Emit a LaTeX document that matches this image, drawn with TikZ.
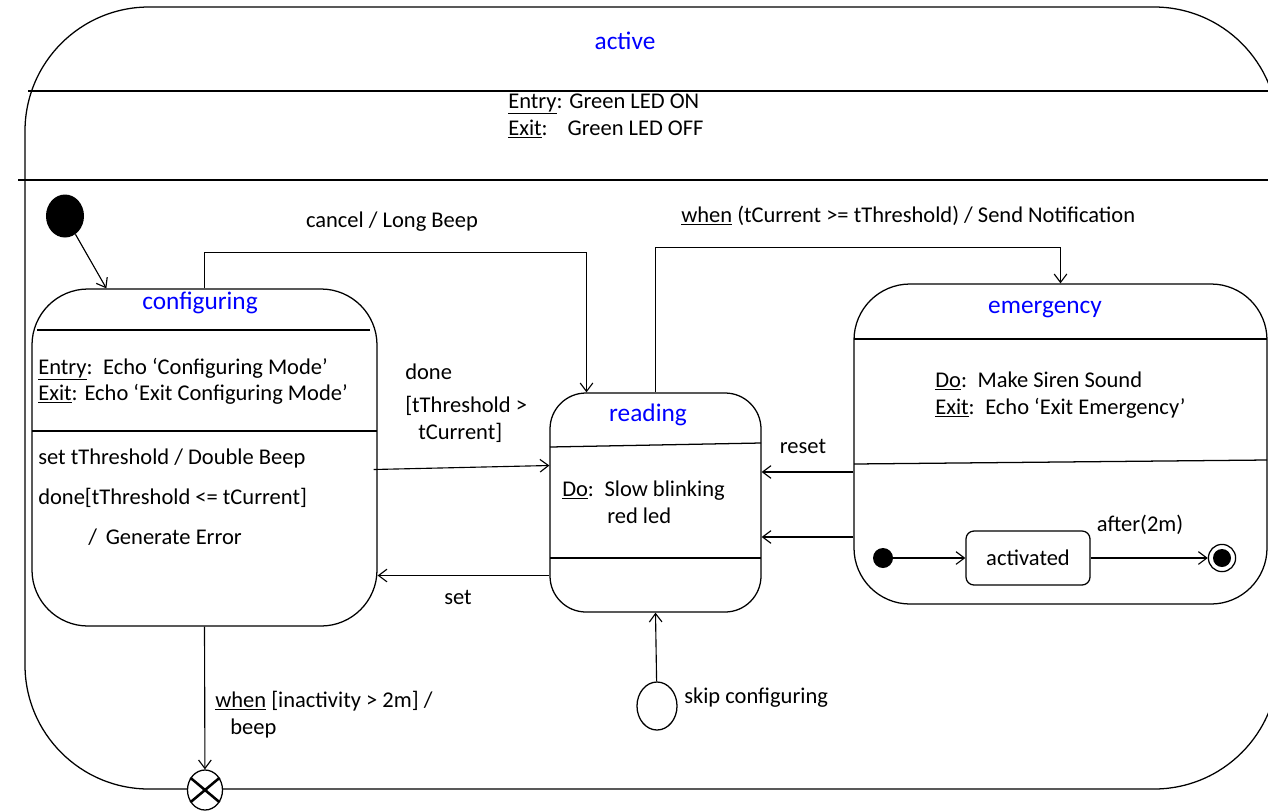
\documentclass[tikz,border=0pt]{standalone}
\usepackage{fontspec}
\setmainfont{Carlito}
\usetikzlibrary{arrows.meta, calc, fit, shapes.geometric}

\begin{document}
\begin{tikzpicture}[x=0.025cm, y=-0.025cm,
    font=\fontsize{16}{19}\selectfont,
    box/.style={draw, line width=0.9pt, inner sep=0pt},
    trans/.style={-{Straight Barb[length=6pt,width=9pt]}, line width=0.8pt},
    lbl/.style={anchor=base west, inner sep=0pt},
    title/.style={anchor=base, inner sep=0pt, text=blue, font=\fontsize{18}{22}\selectfont}]
  \useasboundingbox (0,0) rectangle (1268,811);
  \clip (0,0) rectangle (1268,811);
  % outer state
  \draw[line width=0.9pt, rounded corners=3.1cm] (25,7) rectangle (1278,789);
  \draw[line width=0.9pt] (28,91) -- (1268,91);
  \draw[line width=0.9pt] (18,180) -- (1268,180);
  \node[title] (activet) at (625,49) {active};
  \node[lbl] (aentry) at (508,108) {\underline{Entry}: Green LED ON};
  \node[lbl] (aexit) at (508,135) {\underline{Exit}:\hspace{0.58em} Green LED OFF};

  % states
  \node[box, rounded corners=1.4cm, fit={(32,289) (377,626)}] (conf) {};
  \node[box, rounded corners=0.9cm, fit={(550,393) (761,612)}] (read) {};
  \node[box, rounded corners=1.4cm, fit={(854,284) (1267,604)}] (emer) {};
  \draw[line width=0.9pt] (37,330) -- (370,330);
  \draw[line width=0.9pt] (32,431) -- (377,431);
  \draw[line width=0.9pt] (550,447) -- (761,443);
  \draw[line width=0.9pt] (550,558) -- (761,558);
  \draw[line width=0.9pt] (854,339) -- (1267,339);
  \draw[line width=0.9pt] (854,464) -- (1267,460);

  \node[title] (conft) at (200,309) {configuring};
  \node[lbl] (cfgentry) at (38,374) {\underline{Entry}:\, Echo ‘Configuring Mode’};
  \node[lbl] (cfgexit) at (38,400) {\underline{Exit}: Echo ‘Exit Configuring Mode’};
  \node[lbl] (cfgset) at (38,464) {set tThreshold / Double Beep};
  \node[lbl] (cfgdone) at (38,504) {done[tThreshold <= tCurrent]};
  \node[lbl] (cfgerr) at (88,544) {/\, Generate Error};

  \node[title] (readt) at (648,421) {reading};
  \node[lbl] (readdo) at (562,496) {\underline{Do}:\, Slow blinking};
  \node[lbl] (readled) at (607,523) {red led};

  \node[title] (emert) at (1045,313) {emergency};
  \node[lbl] (emerdo) at (935,387) {\underline{Do}:\, Make Siren Sound};
  \node[lbl] (emerexit) at (935,414) {\underline{Exit}:\, Echo ‘Exit Emergency’};

  % pseudo states
  \node[fill, ellipse, minimum width=0.95cm, minimum height=1.075cm, inner sep=0pt] (init) at (65,216) {};
  \node[draw, ellipse, fill=white, line width=0.9pt, minimum width=0.875cm, minimum height=1cm, inner sep=0pt] (exitpt) at (205,790) {};
  \draw[line width=1.8pt] (exitpt.140) -- (exitpt.-40);
  \draw[line width=1.8pt] (exitpt.40) -- (exitpt.-140);
  \node[draw, ellipse, line width=0.9pt, minimum width=1cm, minimum height=1.2cm, inner sep=0pt] (skip) at (657,706) {};
  \node[fill, circle, minimum size=0.5cm, inner sep=0pt] (einit) at (883,558) {};
  \node[box, rounded corners=0.2cm, minimum width=3.1cm, minimum height=1.35cm] (act) at (1028,558) {activated};
  \node[draw, circle, line width=0.9pt, minimum size=0.68cm, inner sep=0pt] (efin) at (1222,558) {};
  \node[fill, circle, minimum size=0.45cm, inner sep=0pt] (efindot) at (efin) {};

  % transitions
  \draw[trans] (init) -- ($(conf.north west)+(75,0)$);
  \draw[trans] (conf.north) -- ++(0,-36) -| ($(read.north)+(-69,0)$);
  \draw[trans] (read.north) -- ++(0,-145) -| (emer.north);
  \draw[trans] ($(conf.east)+(-4,12)$) -- ($(read.west)+(0,-37)$);
  \coordinate (setpt) at ($(read.west)+(0,73)$);
  \draw[trans] (setpt) -- (setpt -| conf.east);
  \coordinate (resetpt) at ($(emer.west)+(0,28)$);
  \draw[trans] (resetpt) -- (resetpt -| read.east);
  \coordinate (backpt) at ($(emer.west)+(0,93)$);
  \draw[trans] (backpt) -- (backpt -| read.east);
  \draw[trans] (conf.south) -- (exitpt);
  \draw[trans] (skip) -- (read.south);
  \draw[trans] (einit) -- (act);
  \draw[trans] (act) -- (efin);

  % transition labels
  \node[anchor=base, inner sep=0pt] (cancellbl) at (392,227) {cancel / Long Beep};
  \node[lbl] (notifylbl) at (681,222) {\underline{when} (tCurrent >= tThreshold) / Send Notification};
  \node[lbl] (donelbl) at (405,379) {done};
  \node[lbl] (guardlbl) at (405,412) {[tThreshold >};
  \node[lbl] (guardlbl2) at (418,439) {tCurrent]};
  \node[anchor=base, inner sep=0pt] (setlbl) at (458,604) {set};
  \node[anchor=base, inner sep=0pt] (resetlbl) at (803,453) {reset};
  \node[anchor=base, inner sep=0pt] (afterlbl) at (1140,531) {after(2m)};
  \node[lbl] (whenlbl) at (215,707) {\underline{when} [inactivity > 2m] /};
  \node[lbl] (beeplbl) at (230,734) {beep};
  \node[lbl] (skiplbl) at (684,703) {skip configuring};
\end{tikzpicture}
\end{document}
